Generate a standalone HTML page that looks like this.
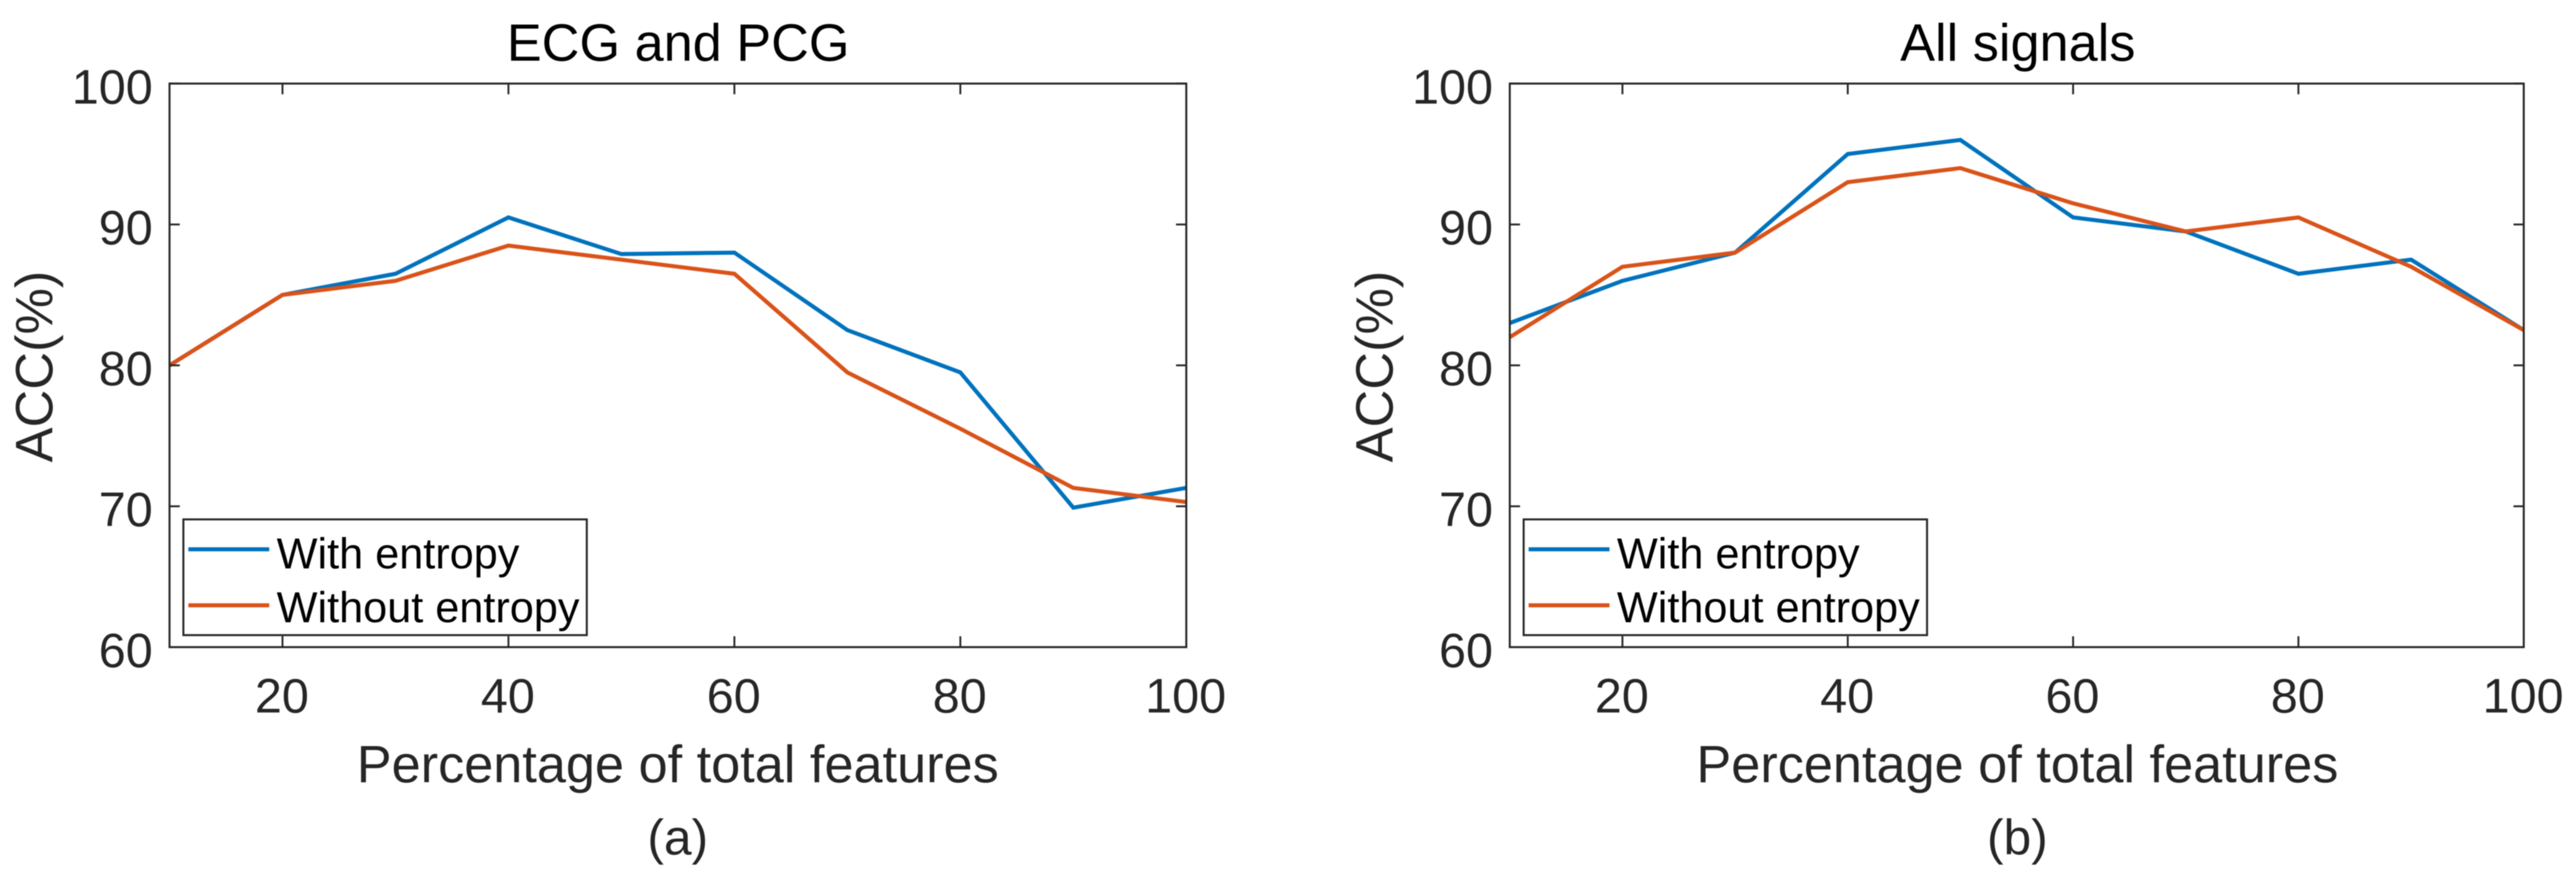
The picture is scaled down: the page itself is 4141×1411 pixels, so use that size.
<!DOCTYPE html>
<html>
<head>
<meta charset="utf-8">
<title>ACC vs percentage of total features</title>
<style>
html,body{margin:0;padding:0;background:#fff;width:4141px;height:1411px;overflow:hidden}
svg{display:block;position:absolute;left:0;top:0;filter:blur(0.7px)}
text{font-family:"Liberation Sans",Arial,sans-serif;fill:#262626}
</style>
</head>
<body>
<svg id="figure" xmlns="http://www.w3.org/2000/svg" width="4141" height="1411" viewBox="0 0 4141 1411"></svg>
<script>
const percentages = [10, 20, 30, 40, 50, 60, 70, 80, 90, 100];
const ecgWithEntropy = [80, 85, 86.5, 90.5, 87.9, 88, 82.5, 79.5, 69.9, 71.3];
const ecgWithoutEntropy = [80, 85, 86, 88.5, 87.5, 86.5, 79.5, 75.5, 71.3, 70.3];
const allWithEntropy = [83, 86, 88, 95, 96, 90.5, 89.5, 86.5, 87.5, 82.5];
const allWithoutEntropy = [82, 87, 88, 93, 94, 91.5, 89.5, 90.5, 87, 82.5];
const xTickValues = [20, 40, 60, 80, 100];
const yTickValues = [60, 70, 80, 90, 100];
const seriesLabels = ['With entropy', 'Without entropy'];

const svg = document.getElementById('figure');
const NS = 'http://www.w3.org/2000/svg';
const INK = '#262626';
const COLORS = ['#0072BD', '#D95319'];

function shape(parent, tag, attrs, name) {
  const el = document.createElementNS(NS, tag);
  for (const k in attrs) el.setAttribute(k, attrs[k]);
  
  
  parent.appendChild(el);
  return el;
}
function label(parent, str, x, y, size, anchor, name, extra) {
  const el = shape(parent, 'text', Object.assign({x: x, y: y, 'font-size': size, 'text-anchor': anchor}, extra || {}), name);
  el.textContent = str;
  return el;
}

function drawPanel(p) {
  const g = shape(svg, 'g', {}, p.id + '-panel');
  const sx = v => p.left + (v - 10) / 90 * (p.right - p.left);
  const sy = v => 1040 - (v - 60) / 40 * 905.7;

  label(g, p.title, p.center + 0.7, 97.7, 84, 'middle', p.id + '-title', {style: 'fill:#000'});

  seriesLabels.forEach(function (s, i) {
    const pts = p.series[i].map((v, j) => sx(percentages[j]).toFixed(1) + ',' + sy(v).toFixed(1)).join(' ');
    shape(g, 'polyline', {points: pts, fill: 'none', stroke: COLORS[i], 'stroke-width': 6.5, 'stroke-linejoin': 'miter'}, p.id + '-line-' + (i === 0 ? 'with-entropy' : 'without-entropy'));
  });

  xTickValues.forEach(function (v) {
    const x = sx(v);
    shape(g, 'line', {x1: x, x2: x, y1: 134.3, y2: 151.5, stroke: INK, 'stroke-width': 3}, p.id + '-x-tick-top-' + v);
    shape(g, 'line', {x1: x, x2: x, y1: 1040, y2: 1022.5, stroke: INK, 'stroke-width': 3}, p.id + '-x-tick-bottom-' + v);
    label(g, String(v), x - 1, 1145, 78, 'middle', p.id + '-x-tick-label-' + v);
  });
  yTickValues.forEach(function (v) {
    const y = sy(v);
    shape(g, 'line', {x1: p.left, x2: p.left + 16.5, y1: y, y2: y, stroke: INK, 'stroke-width': 3}, p.id + '-y-tick-left-' + v);
    shape(g, 'line', {x1: p.right, x2: p.right - 16.5, y1: y, y2: y, stroke: INK, 'stroke-width': 3}, p.id + '-y-tick-right-' + v);
    label(g, String(v), p.left - 27, y + 32, 78, 'end', p.id + '-y-tick-label-' + v);
  });

  shape(g, 'rect', {x: p.left, y: 134.3, width: p.right - p.left, height: 905.7, fill: 'none', stroke: INK, 'stroke-width': 3.2}, p.id + '-plot-frame');

  label(g, 'Percentage of total features', p.center, 1257, 84, 'middle', p.id + '-x-axis-title');
  label(g, 'ACC(%)', 0, 0, 84, 'middle', p.id + '-y-axis-title', {transform: 'translate(' + (p.left - 188.5) + ' 589) rotate(-90)'});
  label(g, p.caption, p.center, 1373, 80, 'middle', p.id + '-caption');

  const lg = shape(g, 'g', {}, p.id + '-legend');
  const lx = p.left + 22.3;
  shape(lg, 'rect', {x: lx, y: 834.7, width: 648.5, height: 186, fill: '#fff', stroke: INK, 'stroke-width': 3.2}, p.id + '-legend-box');
  seriesLabels.forEach(function (s, i) {
    const ly = 882.7 + i * 90;
    shape(lg, 'line', {x1: lx + 8, x2: lx + 138, y1: ly, y2: ly, stroke: COLORS[i], 'stroke-width': 6.5}, p.id + '-legend-swatch-' + (i + 1));
    label(lg, s, lx + 150, 913.3 + i * 86.7, 69.5, 'start', p.id + '-legend-entry-' + (i + 1), {style: 'fill:#000'});
  });
}

drawPanel({id: 'panel-a', title: 'ECG and PCG', caption: '(a)', left: 272.5, right: 1907, center: 1089.5, series: [ecgWithEntropy, ecgWithoutEntropy]});
drawPanel({id: 'panel-b', title: 'All signals', caption: '(b)', left: 2427, right: 4057, center: 3243, series: [allWithEntropy, allWithoutEntropy]});
</script>
</body>
</html>
